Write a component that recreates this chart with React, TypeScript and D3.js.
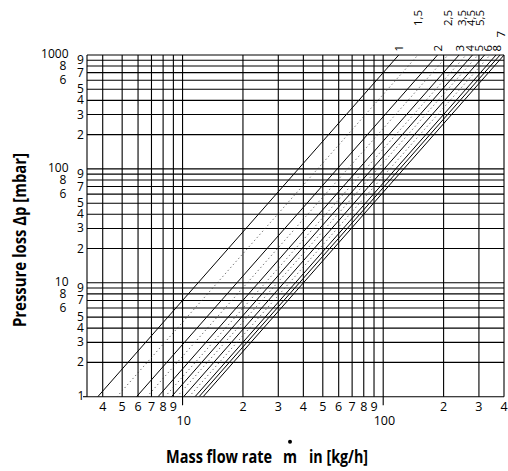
import React from "react";
import * as d3 from "d3";

// ---- Data ----
const lineLabels = ["1", "1,5", "2", "2,5", "3", "3,5", "4", "4,5", "5", "5,5", "6", "7", "8"];
// mass flow rate [kg/h] at a pressure loss of 1 mbar (lines follow dp ~ m^2)
const flowAt1mbar = [3.78, 4.71, 5.9, 6.65, 7.55, 8.18, 8.81, 9.39, 10.12, 10.78, 11.54, 12.09, 12.66];
const dpRange = [1, 1000];
const flowRange = [3.34, 400];
const xMajor = [10, 100];
const xGrid = [4, 5, 6, 7, 8, 9, 10, 20, 30, 40, 50, 60, 70, 80, 90, 100, 200, 300, 400];
const xMinorLabels = [4, 5, 6, 7, 8, 9, 20, 30, 40, 50, 60, 70, 80, 90, 200, 300, 400];
const yDecades = [1, 10, 100, 1000];
const yMinor = [2, 3, 4, 5, 6, 7, 8, 9];

const W = 508;
const H = 471;
const font = "'Open Sans', 'DejaVu Sans', sans-serif";
const titleFont = "'Liberation Sans Narrow', 'Open Sans', 'DejaVu Sans', sans-serif";

export default function App() {
  const x = d3.scaleLog().domain(flowRange).range([87, 504]);
  const y = d3.scaleLog().domain(dpRange).range([396.7, 55]);
  const [x0, x1] = x.range();
  const [yB, yT] = y.range();

  const yGrid: number[] = [];
  [1, 10, 100].forEach((d) => {
    for (let k = 1; k <= 9; k++) yGrid.push(k * d);
  });
  yGrid.push(1000);

  const line = d3
    .line<[number, number]>()
    .x((d) => x(d[0]))
    .y((d) => y(d[1]));

  const series = lineLabels.map((lab, i) => {
    const m0 = flowAt1mbar[i];
    const pts: [number, number][] = [
      [m0, dpRange[0]],
      [m0 * Math.sqrt(dpRange[1] / dpRange[0]), dpRange[1]],
    ];
    return { lab, dotted: lab.includes(","), d: line(pts) as string, topX: Math.min(x(pts[1][0]), x1) };
  });

  // label layout (rows above plot)
  type L = { lab: string; x: number; y0: number };
  const labels: L[] = [];
  const placeRow = (items: typeof series, limit: number, gap: number, y0: number) => {
    const sorted = [...items].sort((a, b) => b.topX - a.topX);
    let prev = limit + gap;
    sorted.forEach((s) => {
      const lx = Math.min(s.topX, prev - gap);
      labels.push({ lab: s.lab, x: lx, y0 });
      prev = lx;
    });
  };
  placeRow(series.filter((s) => !s.dotted && s.lab !== "7"), 496, 9, 51.5);
  placeRow(series.filter((s) => s.dotted), 479, 9, 26);
  placeRow(series.filter((s) => s.lab === "7"), 501, 9, 37.5);

  return (
    <svg width={W} height={H} style={{ position: "absolute", left: 0, top: 0, background: "#fff" }}>
      <defs>
        <clipPath id="plot">
          <rect x={x0} y={yT} width={x1 - x0} height={yB - yT} />
        </clipPath>
      </defs>
      {/* horizontal grid */}
      {yGrid.map((v) => (
        <line key={"h" + v} x1={x0} x2={x1} y1={y(v)} y2={y(v)} stroke="#000" strokeWidth={1.1} />
      ))}
      <line x1={x0 - 4} x2={x0} y1={yB} y2={yB} stroke="#000" strokeWidth={1.1} />
      {/* vertical grid */}
      <line x1={x0} x2={x0} y1={yT} y2={yB} stroke="#000" strokeWidth={1.1} />
      {xGrid.map((v) => (
        <line
          key={"v" + v}
          x1={x(v)}
          x2={x(v)}
          y1={yT}
          y2={xMajor.includes(v) ? yB + 8.5 : yB}
          stroke="#000"
          strokeWidth={1.1}
        />
      ))}
      {/* characteristic lines */}
      <g clipPath="url(#plot)">
        {series.map((s) => (
          <path
            key={s.lab}
            d={s.d}
            fill="none"
            stroke={s.dotted ? "#333" : "#000"}
            strokeWidth={1}
            strokeDasharray={s.dotted ? "1 3" : undefined}
          />
        ))}
      </g>
      {/* curve labels */}
      {labels.map((l) => (
        <text
          key={"l" + l.lab}
          transform={`translate(${l.x},${l.y0}) rotate(-90)`}
          fontFamily={font}
          fontSize={11.5}
          dominantBaseline="central"
          textAnchor="start"
        >
          {l.lab}
        </text>
      ))}
      {/* y tick labels */}
      {yDecades.map((d) =>
        d === 1 ? (
          <text key={"yd" + d} x={81} y={y(d) + 3.5} fontFamily={font} fontSize={12} textAnchor="middle">
            1
          </text>
        ) : (
          <text key={"yd" + d} x={68.5} y={y(d) + 3} fontFamily={font} fontSize={12} textAnchor="end">
            {d}
          </text>
        )
      )}
      {[1, 10, 100].map((d) =>
        yMinor.map((k) => (
          <text
            key={"ym" + d + k}
            x={k === 8 || k === 6 ? 63 : 80.5}
            y={y(k * d) + 4}
            fontFamily={font}
            fontSize={12}
            textAnchor="middle"
          >
            {k}
          </text>
        ))
      )}
      {/* x tick labels */}
      {xMinorLabels.map((v) => {
        const e = Math.pow(10, Math.floor(Math.log10(v) + 1e-9));
        return (
          <text key={"xm" + v} x={x(v)} y={411} fontFamily={font} fontSize={12.5} textAnchor="middle">
            {Math.round(v / e)}
          </text>
        );
      })}
      {xMajor.map((v) => (
        <text key={"xM" + v} x={x(v) + 1.2} y={424.5} fontFamily={font} fontSize={12.5} textAnchor="middle">
          {v}
        </text>
      ))}
      {/* axis titles */}
      <g fontFamily={titleFont} fontWeight="bold" fontSize={17.5}>
        <text x={166} y={462.5} textLength={106} lengthAdjust="spacingAndGlyphs">
          Mass flow rate
        </text>
        <text x={283} y={462.5} textLength={14} lengthAdjust="spacingAndGlyphs">
          m
        </text>
        <circle cx={290} cy={441.7} r={2} fill="#000" />
        <text x={309} y={462.5} textLength={59} lengthAdjust="spacingAndGlyphs">
          in [kg/h]
        </text>
        <text
          transform="translate(25.5,240) rotate(-90)"
          textAnchor="middle"
          textLength={174}
          lengthAdjust="spacingAndGlyphs"
        >
          Pressure loss Δp [mbar]
        </text>
      </g>
    </svg>
  );
}
